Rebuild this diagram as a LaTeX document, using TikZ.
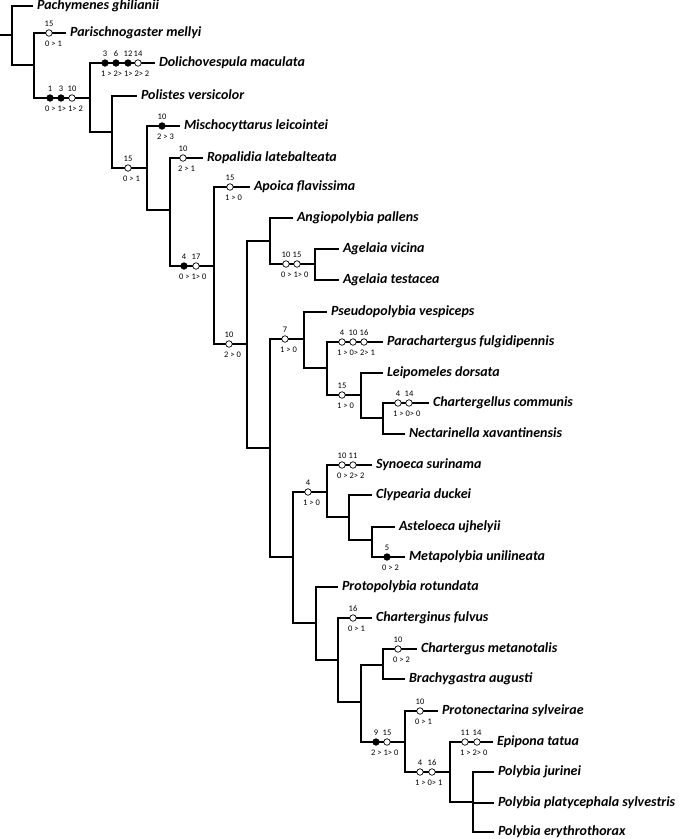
\documentclass[tikz,border=0pt]{standalone}
\usepackage{fontspec}
\setmainfont{Carlito}
\usetikzlibrary{positioning,calc}

\tikzset{
  branch/.style={line width=1.6pt},
  taxon/.style={anchor=west, inner xsep=4pt, inner ysep=0pt, outer sep=0pt,
    text height=7pt, text depth=0pt,
    font=\fontsize{14}{16}\selectfont\bfseries\itshape},
  chmark/.style={circle, draw, line width=0.7pt, minimum size=6.5pt, inner sep=0pt},
  num/.style={inner sep=0pt, font=\fontsize{8.5}{9}\selectfont},
  trans/.style={num, anchor=west}
}

% character changes on a branch: y, list of x/character/fill, x of text, text
\newcommand{\synapo}[4]{%
  \foreach \cx/\cn/\cs in {#2} {
    \node[chmark, fill=\cs] (c\cx-#1) at (\cx,#1) {};
    \node[num] (l\cx-#1) at (\cx,#1-9.5) {\cn};
  }
  \node[trans] (t#3-#1) at (#3,#1+11) {#4};
}

\begin{document}
\begin{tikzpicture}[x=1pt, y=-1pt]
    \useasboundingbox (0,0) rectangle (679,839);

    % Terminal taxa
    \node[taxon] (pach) at (33,6) {Pachymenes ghilianii};
    \node[taxon] (pari) at (66,33) {Parischnogaster mellyi};
    \node[taxon] (doli) at (155,63) {Dolichovespula maculata};
    \node[taxon] (poli) at (137,96) {Polistes versicolor};
    \node[taxon] (misc) at (180,126) {Mischocyttarus leicointei};
    \node[taxon] (ropa) at (203,158) {Ropalidia latebalteata};
    \node[taxon] (apoi) at (250,187) {Apoica flavissima};
    \node[taxon] (angi) at (293,218) {Angiopolybia pallens};
    \node[taxon] (agvi) at (339,249) {Agelaia vicina};
    \node[taxon] (agte) at (339,280) {Agelaia testacea};
    \node[taxon] (pseu) at (327,312) {Pseudopolybia vespiceps};
    \node[taxon] (para) at (383,342) {Parachartergus fulgidipennis};
    \node[taxon] (leip) at (383,373) {Leipomeles dorsata};
    \node[taxon] (chco) at (429,403) {Chartergellus communis};
    \node[taxon] (nect) at (405,434) {Nectarinella xavantinensis};
    \node[taxon] (syno) at (372,465) {Synoeca surinama};
    \node[taxon] (clyp) at (372,495) {Clypearia duckei};
    \node[taxon] (aste) at (395,527) {Asteloeca ujhelyii};
    \node[taxon] (meta) at (405,557) {Metapolybia unilineata};
    \node[taxon] (prot) at (338,587) {Protopolybia rotundata};
    \node[taxon] (chfu) at (372,618) {Charterginus fulvus};
    \node[taxon] (chme) at (417,649) {Chartergus metanotalis};
    \node[taxon] (brac) at (405,679) {Brachygastra augusti};
    \node[taxon] (prsy) at (438,711) {Protonectarina sylveirae};
    \node[taxon] (epip) at (493,742) {Epipona tatua};
    \node[taxon] (pjur) at (494,772) {Polybia jurinei};
    \node[taxon] (ppla) at (494,803) {Polybia platycephala sylvestris};
    \node[taxon] (pery) at (494,832) {Polybia erythrothorax};

    % Internal nodes
    \coordinate (root) at (0,35);
    \coordinate (r) at (12,35);
    \coordinate (nA) at (34,65);
    \coordinate (nB) at (90,98);
    \coordinate (nC) at (112,132);
    \coordinate (nD) at (147,168);
    \coordinate (nE) at (170,210);
    \coordinate (nF) at (214,266);
    \coordinate (nG) at (247,344);
    \coordinate (nH) at (270,241);
    \coordinate (nI) at (315,264);
    \coordinate (nJ) at (270,448);
    \coordinate (nK) at (304,339);
    \coordinate (nL) at (327,368);
    \coordinate (nM) at (361,395);
    \coordinate (nN) at (383,418);
    \coordinate (nO) at (293,557);
    \coordinate (nP) at (327,492);
    \coordinate (nQ) at (349,517);
    \coordinate (nR) at (372,540);
    \coordinate (nS) at (316,623);
    \coordinate (nT) at (338,660);
    \coordinate (nU) at (361,702);
    \coordinate (nV) at (383,665);
    \coordinate (nW) at (405,742);
    \coordinate (nX) at (450,772);
    \coordinate (nY) at (473,802);

    % Branches
    \draw[branch] (root) -- (r);
    \foreach \p/\c in {r/nA, nA/nB, nB/nC, nC/nD, nD/nE, nE/nF, nF/nG, nG/nH,
        nH/nI, nG/nJ, nJ/nK, nK/nL, nL/nM, nM/nN, nJ/nO, nO/nP, nP/nQ, nQ/nR,
        nO/nS, nS/nT, nT/nU, nU/nV, nU/nW, nW/nX, nX/nY}
        \draw[branch] (\p) |- (\c);
    \foreach \p/\c in {r/pach, nA/pari, nB/doli, nC/poli, nD/misc, nE/ropa,
        nF/apoi, nH/angi, nI/agvi, nI/agte, nK/pseu, nL/para, nM/leip,
        nN/chco, nN/nect, nP/syno, nQ/clyp, nR/aste, nR/meta, nS/prot,
        nT/chfu, nV/chme, nV/brac, nW/prsy, nX/epip, nY/pjur, nY/ppla, nY/pery}
        \draw[branch] (\p) |- (\c.west);

    % Character state changes
    \synapo{33}{49/15/white}{45}{0 > 1}
    \synapo{98}{50/1/black,61/3/black,72/10/white}{45}{0 > 1> 1> 2}
    \synapo{63}{105/3/black,116/6/black,128/12/black,138/14/white}{101}{1 > 2> 1> 2> 2}
    \synapo{168}{128/15/white}{123}{0 > 1}
    \synapo{126}{162/10/black}{157}{2 > 3}
    \synapo{158}{183/10/white}{178}{2 > 1}
    \synapo{187}{230/15/white}{225}{1 > 0}
    \synapo{266}{184/4/black,196/17/white}{179}{0 > 1> 0}
    \synapo{344}{229/10/white}{224}{2 > 0}
    \synapo{264}{286/10/white,297/15/white}{281}{0 > 1> 0}
    \synapo{339}{285/7/white}{280}{1 > 0}
    \synapo{342}{342/4/white,353/10/white,364/16/white}{337}{1 > 0> 2> 1}
    \synapo{395}{342/15/white}{337}{1 > 0}
    \synapo{403}{398/4/white,409/14/white}{393}{1 > 0> 0}
    \synapo{465}{342/10/white,353/11/white}{337}{0 > 2> 2}
    \synapo{492}{308/4/white}{303}{1 > 0}
    \synapo{557}{387/5/black}{382}{0 > 2}
    \synapo{618}{353/16/white}{348}{0 > 1}
    \synapo{649}{398/10/white}{393}{0 > 2}
    \synapo{742}{376/9/black,387/15/white}{371}{2 > 1> 0}
    \synapo{711}{420/10/white}{415}{0 > 1}
    \synapo{772}{420/4/white,432/16/white}{415}{1 > 0> 1}
    \synapo{742}{465/11/white,477/14/white}{460}{1 > 2> 0}
\end{tikzpicture}
\end{document}
